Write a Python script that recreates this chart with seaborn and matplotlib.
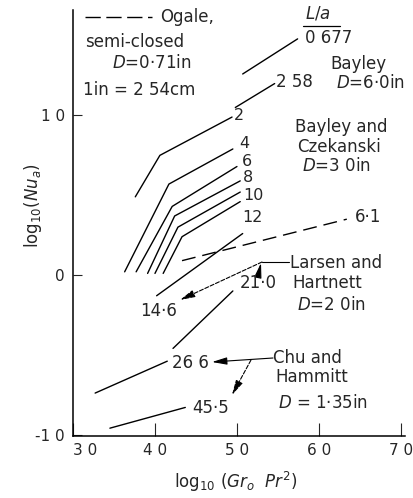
import matplotlib
matplotlib.use('Agg')
import matplotlib.pyplot as plt
import pandas as pd
import seaborn as sns

bayley_la = ['0 677', '2 58']
bayley_x = [[5.07, 5.74], [4.98, 5.46]]
bayley_y = [[1.26, 1.48], [1.05, 1.20]]

czek_la = ['2', '4', '6', '8', '10', '12']
czek_x = [[3.76, 4.06, 4.94], [3.63, 4.17, 4.95], [3.77, 4.21, 5.00],
          [3.91, 4.24, 5.04], [4.00, 4.28, 5.04], [4.10, 4.33, 5.04]]
czek_y = [[0.49, 0.75, 0.99], [0.02, 0.57, 0.79], [0.02, 0.43, 0.68],
          [0.01, 0.37, 0.59], [0.01, 0.30, 0.52], [0.01, 0.24, 0.46]]

ogale_la = '6·1'
ogale_x = [4.33, 6.34]
ogale_y = [0.09, 0.35]

larsen_la = ['14·6', '21·0']
larsen_x = [[4.02, 5.07], [4.22, 4.95]]
larsen_y = [[-0.13, 0.26], [-0.46, -0.10]]

chu_la = ['26 6', '45·5']
chu_x = [[3.27, 4.15], [3.45, 4.37]]
chu_y = [[-0.74, -0.54], [-0.96, -0.83]]

x_ticks = [3, 4, 5, 6, 7]
x_ticklabels = ['3 0', '4 0', '5 0', '6 0', '7 0']
y_ticks = [-1, 0, 1]
y_ticklabels = ['-1 0', '0', '1 0']

W, H = 413, 498


def px(x, y):
    """pixel (from top-left) -> figure fraction."""
    return x / W, 1 - y / H


rows = []
for names, xs, ys in [(bayley_la, bayley_x, bayley_y),
                      (czek_la, czek_x, czek_y),
                      (larsen_la, larsen_x, larsen_y),
                      (chu_la, chu_x, chu_y)]:
    for name, cx, cy in zip(names, xs, ys):
        for i, (a, b) in enumerate(zip(cx, cy)):
            rows.append({'curve': name, 'order': i, 'x': a, 'y': b})
df = pd.DataFrame(rows)

sns.set_style('ticks')
plt.rcParams['font.family'] = ['DejaVu Sans']
plt.rcParams['mathtext.fontset'] = 'dejavusans'

fig = plt.figure(figsize=(W / 100, H / 100), dpi=100)
ax = fig.add_axes([73 / W, 1 - 436 / H, 332 / W, 426 / H])

sns.lineplot(data=df, x='x', y='y', units='curve', estimator=None,
             sort=False, color='black', lw=1.0, ax=ax)
sns.lineplot(x=ogale_x, y=ogale_y, color='black', lw=1.0,
             ls=(0, (10, 5)), ax=ax)

ax.set_xlim(3.0, 7.05)
ax.set_ylim(-1.009, 1.661)
ax.set_xticks(x_ticks)
ax.set_xticklabels(x_ticklabels, fontsize=11)
ax.set_yticks(y_ticks)
ax.set_yticklabels(y_ticklabels, fontsize=11)
ax.get_xticklabels()[0].set_ha('left')
ax.tick_params(axis='x', direction='in', length=9.5, width=0.8, pad=5)
ax.tick_params(axis='y', direction='in', length=6.5, width=0.8, pad=6)
sns.despine(ax=ax)
for s in ['left', 'bottom']:
    ax.spines[s].set_linewidth(1.1)
    ax.spines[s].set_color('black')

ax.set_xlabel(r'log$_{10}$ ($\mathit{Gr}_o$  $\mathit{Pr}^2$)', fontsize=12)
ax.xaxis.set_label_coords(0.49, -0.08)
ax.set_ylabel(r'log$_{10}$($\mathit{Nu}_a$)', fontsize=12)
ax.yaxis.set_label_coords(-0.088, 0.54)

# texts, positioned in pixels of the reference
texts = [
    ('Ogale,', 160, 17), ('semi-closed', 85, 42), (r'$D$=0·71in', 112, 63),
    ('1in = 2 54cm', 83, 90),
    (r'$L/a$', 305, 14), (bayley_la[0], 305, 38),
    ('Bayley', 330, 64), (r'$D$=6·0in', 336, 83),
    (bayley_la[1], 276, 82),
    ('Bayley and', 295, 127), ('Czekanski', 297, 147), (r'$D$=3 0in', 302, 166),
    (ogale_la, 355, 217),
    ('Larsen and', 290, 263), ('Hartnett', 292, 283), (r'$D$=2 0in', 297, 305),
    (larsen_la[1], 240, 283), (larsen_la[0], 140, 311),
    (chu_la[0], 172, 363), (chu_la[1], 192, 408),
    ('Chu and', 273, 358), ('Hammitt', 275, 377), (r'$D$ = 1·35in', 278, 403),
]
for t, x, y in texts:
    fig.text(*px(x, y), t, fontsize=12, ha='left', va='center')

# L/a labels of the Bayley and Czekanski family
czek_pos = [(234, 115), (239, 143), (242, 161), (243, 178), (243, 196),
            (242, 217)]
for t, (x, y) in zip(czek_la, czek_pos):
    fig.text(*px(x, y), t, fontsize=11.5, ha='left', va='center')

# legend key dash and L/a underline
fig.add_artist(plt.Line2D([px(85, 0)[0], px(152, 0)[0]], [px(0, 17)[1]] * 2,
                          color='black', lw=1.0, ls=(0, (11, 4))))
fig.add_artist(plt.Line2D([px(303, 0)[0], px(340, 0)[0]], [px(0, 26)[1]] * 2,
                          color='black', lw=0.9))

# leader lines
fig.add_artist(plt.Line2D([px(289, 0)[0], px(262, 0)[0]], [px(0, 262)[1]] * 2,
                          color='black', lw=0.8))
head = '-|>,head_length=0.9,head_width=0.22'
arrows = [((262, 262), (180, 300), '--'),
          ((258, 277), (261, 263), '-'),
          ((273, 358), (212, 362), '-'),
          ((251, 360), (232, 395), '--')]
for start, end, ls in arrows:
    ax.annotate('', xy=px(*end), xycoords='figure fraction',
                xytext=px(*start), textcoords='figure fraction',
                arrowprops=dict(arrowstyle=head, color='black', lw=0.8,
                                ls=ls, shrinkA=0, shrinkB=0,
                                mutation_scale=10))

fig.savefig('out.png', dpi=100)
